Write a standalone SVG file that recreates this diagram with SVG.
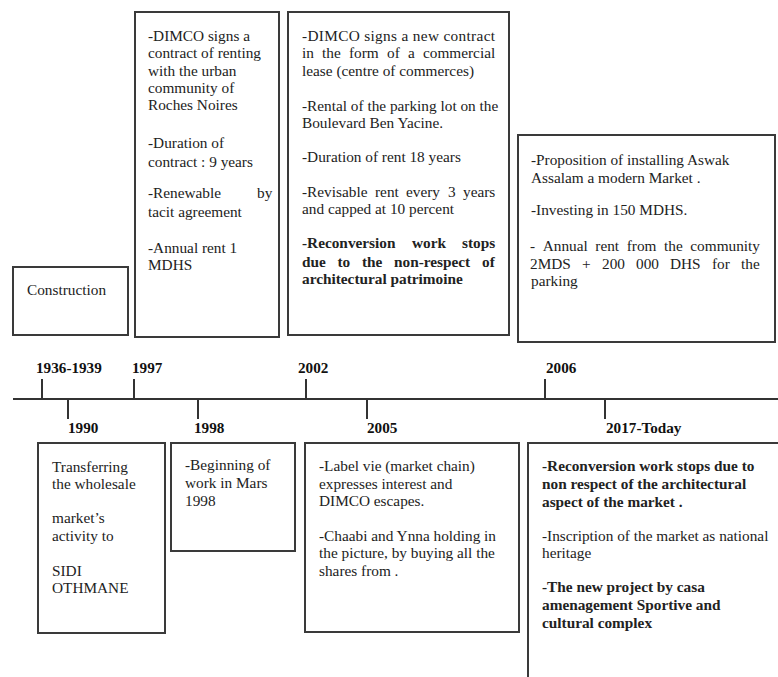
<svg xmlns="http://www.w3.org/2000/svg" width="778" height="677" viewBox="0 0 778 677">
<style>
  .box { fill: #ffffff; stroke: #3a3a3a; stroke-width: 2; }
  .t { font-family: "Liberation Serif", "Times New Roman", serif; font-size: 15.3px; fill: #222; }
  .b { font-weight: bold; }
  .yr { font-family: "Liberation Serif", "Times New Roman", serif; font-size: 15.2px; font-weight: bold; fill: #111; }
  .ln { stroke: #333; stroke-width: 2; fill: none; }
</style>
<rect width="778" height="677" fill="#ffffff"/>

<g id="connectors">
  <line class="ln" x1="13" y1="399" x2="778" y2="399"/>
  <line class="ln" x1="42" y1="379" x2="42" y2="399"/>
  <line class="ln" x1="134" y1="379" x2="134" y2="399"/>
  <line class="ln" x1="306" y1="379" x2="306" y2="399"/>
  <line class="ln" x1="545" y1="379" x2="545" y2="399"/>
  <line class="ln" x1="68" y1="399" x2="68" y2="419"/>
  <line class="ln" x1="198" y1="399" x2="198" y2="419"/>
  <line class="ln" x1="367" y1="399" x2="367" y2="419"/>
  <line class="ln" x1="605" y1="399" x2="605" y2="419"/>
</g>

<g id="years">
  <text class="yr" x="36" y="373">1936-1939</text>
  <text class="yr" x="132" y="373">1997</text>
  <text class="yr" x="298" y="373">2002</text>
  <text class="yr" x="546" y="373">2006</text>
  <text class="yr" x="68" y="433">1990</text>
  <text class="yr" x="194" y="433">1998</text>
  <text class="yr" x="367" y="433">2005</text>
  <text class="yr" x="606" y="433">2017-Today</text>
</g>

<g id="n1936">
  <rect class="box" x="13" y="267" width="115" height="68"/>
  <text class="t" x="27" y="295">Construction</text>
</g>

<g id="n1997">
  <rect class="box" x="135" y="12" width="144" height="325"/>
  <text class="t" x="148" y="41">-DIMCO signs a</text>
  <text class="t" x="148" y="58">contract of renting</text>
  <text class="t" x="148" y="76">with the urban</text>
  <text class="t" x="148" y="93">community of</text>
  <text class="t" x="148" y="110">Roches Noires</text>
  <text class="t" x="148" y="148">-Duration of</text>
  <text class="t" x="148" y="167">contract : 9 years</text>
  <text class="t" y="198"><tspan x="148">-Renewable</tspan><tspan x="257">by</tspan></text>
  <text class="t" x="148" y="217">tacit agreement</text>
  <text class="t" x="148" y="253">-Annual rent 1</text>
  <text class="t" x="148" y="270">MDHS</text>
</g>

<g id="n2002">
  <rect class="box" x="288" y="12" width="221" height="323"/>
  <text class="t" x="302" y="41" textLength="193" lengthAdjust="spacing">-DIMCO signs a new contract</text>
  <text class="t" y="58"><tspan x="302">in</tspan><tspan x="322">the</tspan><tspan x="349">form</tspan><tspan x="387">of</tspan><tspan x="408">a</tspan><tspan x="423">commercial</tspan></text>
  <text class="t" x="302" y="76">lease (centre of commerces)</text>
  <text class="t" x="302" y="111">-Rental of the parking lot on the</text>
  <text class="t" x="302" y="128">Boulevard Ben Yacine.</text>
  <text class="t" x="302" y="162">-Duration of rent 18 years</text>
  <text class="t" y="197"><tspan x="302">-Revisable</tspan><tspan x="375">rent</tspan><tspan x="406">every</tspan><tspan x="448">3</tspan><tspan x="463">years</tspan></text>
  <text class="t" x="302" y="214">and capped at 10 percent</text>
  <text class="t b" y="248"><tspan x="302">-Reconversion</tspan><tspan x="412">work</tspan><tspan x="462">stops</tspan></text>
  <text class="t b" y="267"><tspan x="302">due</tspan><tspan x="337.5">to</tspan><tspan x="362">the</tspan><tspan x="394">non-respect</tspan><tspan x="482">of</tspan></text>
  <text class="t b" x="302" y="284">architectural patrimoine</text>
</g>

<g id="n2006">
  <rect class="box" x="518" y="135" width="257" height="207"/>
  <text class="t" x="531" y="165">-Proposition of installing Aswak</text>
  <text class="t" x="531" y="183">Assalam a modern Market .</text>
  <text class="t" x="531" y="215">-Investing in 150 MDHS.</text>
  <text class="t" y="251"><tspan x="530">-</tspan><tspan x="542.7">Annual</tspan><tspan x="595.3">rent</tspan><tspan x="626.7">from</tspan><tspan x="664">the</tspan><tspan x="690.3">community</tspan></text>
  <text class="t" y="269"><tspan x="530">2MDS</tspan><tspan x="582">+</tspan><tspan x="602">200</tspan><tspan x="636">000</tspan><tspan x="670">DHS</tspan><tspan x="712">for</tspan><tspan x="741">the</tspan></text>
  <text class="t" x="531" y="286">parking</text>
</g>

<g id="n1990">
  <rect class="box" x="38" y="443" width="127" height="190"/>
  <text class="t" x="52" y="472">Transferring</text>
  <text class="t" x="52" y="489">the wholesale</text>
  <text class="t" x="52" y="523">market’s</text>
  <text class="t" x="52" y="541">activity to</text>
  <text class="t" x="52" y="576">SIDI</text>
  <text class="t" x="52" y="593">OTHMANE</text>
</g>

<g id="n1998">
  <rect class="box" x="171" y="443" width="124" height="108"/>
  <text class="t" x="185" y="470">-Beginning of</text>
  <text class="t" x="185" y="488">work in Mars</text>
  <text class="t" x="185" y="506">1998</text>
</g>

<g id="n2005">
  <rect class="box" x="305" y="443" width="214" height="189"/>
  <text class="t" x="319" y="471">-Label vie (market chain)</text>
  <text class="t" x="319" y="489">expresses interest and</text>
  <text class="t" x="319" y="506">DIMCO escapes.</text>
  <text class="t" x="319" y="541">-Chaabi and Ynna holding in</text>
  <text class="t" x="319" y="558">the picture, by buying all the</text>
  <text class="t" x="319" y="576">shares from .</text>
</g>

<g id="n2017">
  <rect class="box" x="528" y="443" width="270" height="260"/>
  <text class="t b" x="542" y="471">-Reconversion work stops due to</text>
  <text class="t b" x="542" y="489">non respect of the architectural</text>
  <text class="t b" x="542" y="507">aspect of the market .</text>
  <text class="t" x="542" y="541">-Inscription of the market as national</text>
  <text class="t" x="542" y="558">heritage</text>
  <text class="t b" x="542" y="592">-The new project by casa</text>
  <text class="t b" x="542" y="610">amenagement Sportive and</text>
  <text class="t b" x="542" y="628">cultural complex</text>
</g>
</svg>
